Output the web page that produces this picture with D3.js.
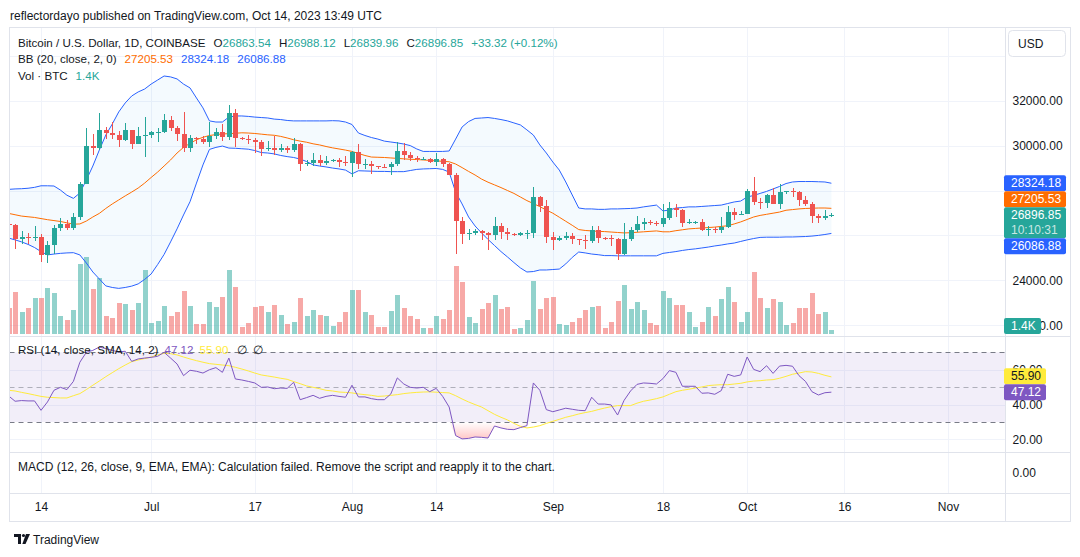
<!DOCTYPE html>
<html>
<head>
<meta charset="utf-8">
<script src="https://cdn.jsdelivr.net/npm/d3@7"></script>
<style>
  body { margin: 0; background: #ffffff; }
  svg { display: block; font-family: "Liberation Sans", Arial, sans-serif; }
  text { fill: #131722; }
</style>
</head>
<body>
<svg id="chart" width="1080" height="557"></svg>
<script>
// BTC/USD daily, Coinbase, 9 Jun 2023 -> 14 Oct 2023
const firstDay = Date.UTC(2023, 5, 9);
const lastDay = Date.UTC(2023, 9, 15);

const open = [26500,26480,25850,25940,25900,25920,25130,25580,26330,26510,26340,26840,28310,30000,29890,30690,30550,30470,30270,30690,30080,30440,
  30470,30590,30620,31160,30770,30510,29900,30350,30290,30170,30410,30620,30390,31460,30320,30300,30240,30140,29860,29910,29800,29910,29800,30090,29180,29230,29350,29220,29320,29360,29280,
  29230,29700,29170,29190,29090,29050,29040,29180,29770,29570,29430,29400,29420,29280,29410,29170,28700,26630,26050,26100,26190,26120,26040,26430,26160,26060,26010,26090,26110,27730,27300,
  25940,25800,25870,25970,25820,25790,25750,26240,25900,25890,25830,25160,25840,26230,26530,26610,26570,26530,26760,27210,27130,26570,26580,26590,26250,26300,26220,26370,27030,26910,
  26970,27990,27510,27430,27800,27410,27950,27970,27940,27590,27390,26870,26760,26863.54];
const high = [26780,26530,26200,26090,26430,26080,25760,26480,26780,26680,27000,28400,30800,30500,31430,30810,31050,30660,31000,30700,30830,31280,
  30650,30790,31390,31330,30880,31500,30450,30390,30440,31040,30800,30980,31820,31640,30390,30450,30340,30240,30200,30420,30050,30000,30350,30100,29380,29690,29560,29530,29420,29440,29520,
  29740,30060,29410,29320,29110,29170,29250,30180,30120,29710,29530,29480,29450,29680,29450,29230,28780,26820,26270,26290,26260,26140,26810,26560,26310,26100,26170,26230,28150,27760,27580,
  26130,25970,26130,26090,25860,26020,26440,26430,25940,26000,25900,26540,26380,26850,26780,26680,26620,27410,27490,27380,27160,26740,26640,26730,26430,26390,26840,27300,27240,27100,
  28060,28600,27680,27840,28130,28290,28000,28110,27990,27740,27480,26940,27110,26988.12];
const low = [26280,25400,25630,25620,25730,24820,24760,25180,26180,26260,26260,26670,28280,29600,29820,30280,30300,29930,30220,29860,30050,29500,
  30330,30170,30560,30640,30200,29700,29720,30060,30050,29950,30290,30220,30240,29940,30250,30080,29690,29520,29760,29570,29730,29650,29730,28860,29070,29100,29070,29120,29260,29040,29100,
  28590,28950,28960,28750,28950,28980,28700,29110,29360,29300,29250,29350,29240,29070,29060,28690,25170,25620,25790,26000,25810,25350,25800,25860,25780,25970,25970,25860,25880,27030,25660,
  25330,25730,25800,25620,25580,25380,25640,25650,25800,25550,24910,25140,25770,26130,26220,26480,26400,26390,26670,26800,26370,26510,26520,26210,25990,26090,26110,26340,26670,26900,
  26950,27340,27160,27220,27390,27190,27850,27690,27290,27320,26560,26550,26690,26839.96];
const close = [26480,25850,25940,25900,25920,25130,25580,26330,26510,26340,26840,28310,30000,29890,30690,30550,30470,30270,30690,30080,30440,30470,
  30590,30620,31160,30770,30510,29900,30350,30290,30170,30410,30620,30390,31460,30320,30300,30240,30140,29860,29910,29800,29910,29800,30090,29180,29230,29350,29220,29320,29360,29280,29230,
  29700,29170,29190,29090,29050,29040,29180,29770,29570,29430,29400,29420,29280,29410,29170,28700,26630,26050,26100,26190,26120,26040,26430,26160,26060,26010,26090,26110,27730,27300,25940,
  25800,25870,25970,25820,25790,25750,26240,25900,25890,25830,25160,25840,26230,26530,26610,26570,26530,26760,27210,27130,26570,26580,26590,26250,26300,26220,26370,27030,26910,26970,
  27990,27510,27430,27800,27410,27950,27970,27940,27590,27390,26870,26760,26860,26896.85];
// volume in thousands of BTC
const volume = [8.6,14.0,7.4,8.7,12.0,12.0,15.3,13.6,6.1,4.7,8.0,23.2,25.5,15.0,18.6,6.1,5.4,10.3,10.0,8.0,10.3,21.2,
  3.7,4.4,9.4,6.1,7.4,14.3,9.4,3.4,3.4,10.7,9.0,12.3,21.2,15.6,2.4,3.7,9.0,9.4,7.4,9.7,6.4,3.4,4.1,12.0,6.1,8.0,6.4,6.1,2.8,4.1,7.4,
  14.6,14.6,7.4,6.4,2.4,2.4,7.7,13.0,8.7,6.1,5.1,2.1,2.1,6.1,5.1,8.0,22.6,17.3,5.7,3.7,8.4,10.3,13.0,8.4,9.0,1.8,2.1,4.7,17.6,8.4,12.0,
  12.3,3.4,3.1,4.1,5.4,8.0,9.0,9.4,2.1,4.1,11.0,16.3,8.4,10.7,8.0,3.7,3.1,14.3,12.0,9.7,9.7,7.4,2.4,4.1,9.0,6.1,11.7,15.6,10.7,4.1,
  7.4,20.6,12.0,8.7,11.7,10.7,3.1,3.7,8.7,8.7,13.6,6.7,7.4,1.4];
const bbUpper = [28050,28070,28080,28100,28140,28210,28210,28200,28020,27790,27650,27890,28470,29090,29800,30470,30960,31500,31900,32210,32390,32520,
  32740,32920,33100,33060,32970,32740,32570,32120,31680,31100,31050,31050,31270,31320,31320,31300,31270,31250,31230,31180,31160,31120,31100,31100,31100,31100,31100,31100,31110,31100,31050,
  30940,30560,30450,30360,30290,30200,30160,30120,30070,30000,29850,29740,29740,29740,29740,29760,30290,30830,31070,31210,31230,31250,31210,31160,31100,31010,30920,30700,30470,30030,29670,
  29270,28910,28380,27800,27220,27180,27180,27160,27160,27180,27180,27190,27200,27220,27270,27310,27350,27090,27130,27220,27240,27270,27270,27290,27310,27330,27350,27420,27490,27530,
  27710,27780,27870,27960,28070,28180,28310,28380,28400,28400,28400,28390,28380,28324.18];
const bbBasis = [26980,26920,26860,26830,26800,26750,26700,26660,26620,26560,26500,26510,26640,26820,26980,27200,27400,27580,27760,27930,28110,28330,
  28580,28820,29090,29360,29670,29920,30100,30260,30370,30450,30490,30520,30530,30550,30570,30560,30540,30510,30480,30460,30410,30340,30260,30200,30150,30080,30030,29960,29900,29850,29800,
  29740,29650,29560,29490,29480,29470,29450,29430,29410,29390,29380,29360,29340,29320,29300,29280,29180,29020,28850,28690,28510,28370,28250,28130,28000,27870,27710,27550,27420,27280,27130,
  26990,26810,26630,26450,26260,26220,26200,26180,26170,26150,26130,26110,26120,26140,26160,26180,26200,26160,26160,26210,26250,26290,26310,26330,26350,26370,26400,26430,26510,26600,
  26710,26820,26890,26940,26990,27040,27120,27150,27180,27200,27210,27220,27220,27205.53];
const bbLower = [25880,25800,25710,25600,25460,25280,25130,25170,25200,25220,25230,25130,24770,24370,24060,23750,23680,23640,23680,23740,23840,24040,
  24280,24700,25150,25710,26290,26910,27500,28330,29140,29830,29920,29980,29890,29880,29860,29840,29780,29690,29670,29630,29560,29510,29470,29400,29290,29140,29090,29050,29000,28960,28910,
  28740,28880,28870,28860,28850,28850,28840,28840,28840,28890,28940,28960,28970,28980,28940,28820,27930,27400,26820,26420,26110,25820,25550,25280,25040,24790,24550,24370,24390,24460,24460,
  24480,24500,24730,25020,25260,25220,25170,25140,25100,25100,25090,25090,25090,25090,25090,25090,25090,25200,25240,25280,25330,25370,25400,25440,25480,25530,25570,25620,25660,25730,
  25800,25860,25910,25920,25920,25920,25930,25930,25940,25950,25970,26000,26040,26086.88];
const rsi = [45.0,41.9,42.3,42.1,42.1,36.7,41.5,48.2,49.9,48.6,53.3,64.3,70.0,71.1,73.0,72.1,71.1,70.2,70.6,64.8,66.2,66.7,
  67.1,67.7,70.0,66.7,63.3,56.6,59.7,59.1,58.1,60.0,61.2,58.5,66.7,54.7,54.1,53.3,52.4,49.9,50.1,49.1,49.5,49.3,52.8,42.8,44.0,45.3,43.6,44.7,45.3,44.7,44.2,
  51.1,44.4,44.4,43.4,42.8,42.8,46.1,55.3,51.8,49.9,49.5,49.9,47.4,49.3,44.7,38.6,22.2,20.3,20.6,21.4,21.2,20.8,27.7,26.6,25.8,25.6,26.8,27.9,52.4,48.2,37.1,
  35.9,36.9,37.9,37.3,36.7,36.5,44.2,40.3,40.3,39.8,34.0,42.4,47.8,51.6,52.4,52.2,51.8,54.9,59.5,58.5,50.5,50.5,50.5,46.5,46.7,45.9,48.0,57.4,56.2,57.0,
  67.3,60.2,58.9,62.3,57.9,62.1,62.5,62.0,56.6,53.3,47.4,45.5,46.8,47.12];
const rsiMa = [48.2,47.8,47.0,46.3,45.5,44.7,44.2,44.0,43.8,43.8,45.1,46.3,48.6,51.1,53.5,56.0,58.3,60.6,62.7,64.6,65.6,66.4,
  67.3,68.5,69.4,69.2,68.5,67.3,66.2,65.2,64.3,63.5,63.1,62.7,62.3,61.4,60.4,59.3,58.1,57.0,56.4,55.8,55.1,54.5,53.2,52.0,50.7,49.9,49.1,48.2,47.8,47.2,47.0,
  46.7,46.1,45.7,45.3,44.7,44.9,45.3,45.7,46.3,46.7,47.0,47.2,47.3,47.1,46.9,46.7,45.1,43.2,41.5,40.0,38.6,36.5,34.4,32.7,31.2,29.2,27.5,26.6,27.1,27.9,29.2,
  30.4,31.5,32.7,33.6,34.6,35.4,36.1,37.1,38.0,38.8,39.4,39.4,39.4,40.8,41.9,42.6,43.4,44.4,45.9,47.4,48.2,48.8,49.5,50.1,50.9,51.2,51.4,51.4,51.8,52.2,
  53.0,53.5,53.7,54.1,54.3,55.1,56.2,57.4,58.1,58.9,58.7,57.9,56.8,55.90];

const timeTicks = [[2023,5,14],[2023,6,1],[2023,6,17],[2023,7,1],[2023,7,14],[2023,8,1],[2023,8,18],[2023,9,1],[2023,9,16],[2023,10,1]];
const timeLabels = ['14','Jul','17','Aug','14','Sep','18','Oct','16','Nov'];
const priceTicks = [22000, 24000, 26000, 28000, 30000, 32000, 34000];
// 26000 / 28000 sit under the coloured value boxes, so only these are printed
const priceLabelTicks = [22000, 24000, 30000, 32000];
const rsiTicks = [20, 40, 60, 80];

const col = {
  up: '#26a69a', down: '#ef5350',
  upVol: 'rgba(38,166,154,0.5)', downVol: 'rgba(239,83,80,0.5)',
  grid: '#f0f3fa', border: '#e0e3eb', text: '#131722',
  bbBlue: '#2962ff', bbOrange: '#ff6d00', bbFill: 'rgba(33,150,243,0.05)',
  rsi: '#7e57c2', rsiMa: '#ffeb3b'
};

const frame = { left: 9.5, right: 1005.5, outer: 1070.5, top: 27.5, main: 336.5, rsi: 452.5, macd: 493.5, bottom: 521.5 };

const dates = d3.utcDay.range(new Date(firstDay), new Date(lastDay));
const bars = dates.map((d, i) => ({
  date: d, o: open[i], h: high[i], l: low[i], c: close[i], v: volume[i],
  up: bbUpper[i], mid: bbBasis[i], lo: bbLower[i], r: rsi[i], rm: rsiMa[i]
}));
const last = bars[bars.length - 1];

// scales
const x = d3.scaleUtc()
  .domain([new Date(Date.UTC(2023, 5, 14)), new Date(Date.UTC(2023, 10, 1))])
  .range([41, 948]);
const yPrice = d3.scaleLinear().domain([24000, 32000]).range([280.3, 100.7]);
const yVol = d3.scaleLinear().domain([0, 33]).range([334.3, 234.3]);
const yRsi = d3.scaleLinear().domain([30, 70]).range([422, 352.3]);
const yMacd = d3.scaleLinear().domain([-1, 1]).range([493, 453]);

const svg = d3.select('#chart');
const defs = svg.append('defs');
defs.append('clipPath').attr('id', 'clipMain')
  .append('rect').attr('x', frame.left + 0.5).attr('y', frame.top + 0.5)
  .attr('width', frame.right - frame.left - 1).attr('height', frame.main - frame.top - 1);
defs.append('clipPath').attr('id', 'clipRsi')
  .append('rect').attr('x', frame.left + 0.5).attr('y', frame.main + 0.5)
  .attr('width', frame.right - frame.left - 1).attr('height', frame.rsi - frame.main - 1);
const grad = defs.append('linearGradient').attr('id', 'oversold')
  .attr('gradientUnits', 'userSpaceOnUse')
  .attr('x1', 0).attr('x2', 0).attr('y1', yRsi(30)).attr('y2', yRsi(18));
grad.append('stop').attr('offset', 0).attr('stop-color', 'rgba(255,82,82,0)');
grad.append('stop').attr('offset', 1).attr('stop-color', 'rgba(255,82,82,0.4)');

// published line
svg.append('text').attr('x', 10).attr('y', 20).style('font-size', '12px')
  .text('reflectordayo published on TradingView.com, Oct 14, 2023 13:49 UTC');

// grid lines
const tickDates = timeTicks.map(t => new Date(Date.UTC(t[0], t[1], t[2])));
const grid = svg.append('g').attr('stroke', col.grid).attr('shape-rendering', 'crispEdges');
grid.selectAll('line.v').data(tickDates).enter().append('line')
  .attr('x1', d => Math.round(x(d)) + 0.5).attr('x2', d => Math.round(x(d)) + 0.5)
  .attr('y1', frame.top).attr('y2', frame.macd);
grid.selectAll('line.p').data(priceTicks).enter().append('line')
  .attr('x1', frame.left).attr('x2', frame.right)
  .attr('y1', d => Math.round(yPrice(d)) + 0.5).attr('y2', d => Math.round(yPrice(d)) + 0.5);
grid.selectAll('line.r').data(rsiTicks).enter().append('line')
  .attr('clip-path', 'url(#clipRsi)')
  .attr('x1', frame.left).attr('x2', frame.right)
  .attr('y1', d => Math.round(yRsi(d)) + 0.5).attr('y2', d => Math.round(yRsi(d)) + 0.5);

// ---- main pane
const main = svg.append('g').attr('clip-path', 'url(#clipMain)');

// volume
main.append('g').attr('shape-rendering', 'crispEdges')
  .selectAll('rect').data(bars).enter().append('rect')
  .attr('x', d => Math.round(x(d.date)) - 2)
  .attr('width', 5)
  .attr('y', d => yVol(d.v))
  .attr('height', d => yVol(0) - yVol(d.v))
  .attr('fill', d => d.c >= d.o ? col.upVol : col.downVol);

// bollinger bands
main.append('path').datum(bars)
  .attr('fill', col.bbFill)
  .attr('d', d3.area().x(d => x(d.date)).y0(d => yPrice(d.lo)).y1(d => yPrice(d.up)));
[['up', col.bbBlue], ['lo', col.bbBlue], ['mid', col.bbOrange]].forEach(([k, c]) => {
  main.append('path').datum(bars)
    .attr('fill', 'none').attr('stroke', c).attr('stroke-width', 1)
    .attr('d', d3.line().x(d => x(d.date)).y(d => yPrice(d[k])));
});

// candles
const candle = main.append('g').attr('shape-rendering', 'crispEdges')
  .selectAll('g').data(bars).enter().append('g');
candle.append('line')
  .attr('x1', d => Math.round(x(d.date)) + 0.5).attr('x2', d => Math.round(x(d.date)) + 0.5)
  .attr('y1', d => yPrice(d.h)).attr('y2', d => yPrice(d.l))
  .attr('stroke', d => d.c >= d.o ? col.up : col.down);
candle.append('rect')
  .attr('x', d => Math.round(x(d.date)) - 2)
  .attr('width', 5)
  .attr('y', d => yPrice(Math.max(d.o, d.c)))
  .attr('height', d => Math.max(1, Math.abs(yPrice(d.o) - yPrice(d.c))))
  .attr('fill', d => d.c >= d.o ? col.up : col.down);

// ---- RSI pane
const rp = svg.append('g').attr('clip-path', 'url(#clipRsi)');
rp.append('rect')
  .attr('x', frame.left).attr('width', frame.right - frame.left)
  .attr('y', yRsi(70)).attr('height', yRsi(30) - yRsi(70))
  .attr('fill', 'rgba(126,87,194,0.1)');
rp.append('path').datum(bars)
  .attr('fill', 'url(#oversold)')
  .attr('d', d3.area().x(d => x(d.date)).y0(yRsi(30)).y1(d => yRsi(Math.min(d.r, 30))));
[[70, '#787b86'], [50, 'rgba(120,123,134,0.55)'], [30, '#787b86']].forEach(([v, c]) => {
  rp.append('line')
    .attr('x1', frame.left).attr('x2', frame.right)
    .attr('y1', Math.round(yRsi(v)) + 0.5).attr('y2', Math.round(yRsi(v)) + 0.5)
    .attr('stroke', c).attr('stroke-dasharray', '5,4');
});
rp.append('path').datum(bars)
  .attr('fill', 'none').attr('stroke', col.rsiMa).attr('stroke-width', 1)
  .attr('d', d3.line().x(d => x(d.date)).y(d => yRsi(d.rm)));
rp.append('path').datum(bars)
  .attr('fill', 'none').attr('stroke', col.rsi).attr('stroke-width', 1)
  .attr('d', d3.line().x(d => x(d.date)).y(d => yRsi(d.r)));

// ---- frame and separators
const fr = svg.append('g').attr('stroke', col.border).attr('fill', 'none').attr('shape-rendering', 'crispEdges');
fr.append('rect').attr('x', frame.left).attr('y', frame.top)
  .attr('width', frame.outer - frame.left).attr('height', frame.bottom - frame.top);
fr.append('line').attr('x1', frame.right).attr('x2', frame.right).attr('y1', frame.top).attr('y2', frame.bottom);
[frame.main, frame.rsi, frame.macd].forEach(y => {
  fr.append('line').attr('x1', frame.left).attr('x2', frame.outer).attr('y1', y).attr('y2', y);
});

// ---- axes
const fontSize = '12px';
const legendSize = '11.6px';
const timeAxis = d3.axisBottom(x).tickValues(tickDates)
  .tickFormat((d, i) => timeLabels[i]).tickSize(0).tickPadding(9);
const gT = svg.append('g').attr('transform', `translate(0,${frame.macd})`).call(timeAxis);

const priceAxis = d3.axisRight(yPrice).tickValues(priceLabelTicks)
  .tickFormat(d3.format('.2f')).tickSize(0).tickPadding(7);
const gP = svg.append('g').attr('transform', `translate(${frame.right},0)`).call(priceAxis);

const rsiAxis = d3.axisRight(yRsi).tickValues([20, 40, 60])
  .tickFormat(d3.format('.2f')).tickSize(0).tickPadding(7);
const gR = svg.append('g').attr('transform', `translate(${frame.right},0)`).call(rsiAxis);

const macdAxis = d3.axisRight(yMacd).tickValues([0])
  .tickFormat(d3.format('.2f')).tickSize(0).tickPadding(7);
const gM = svg.append('g').attr('transform', `translate(${frame.right},0)`).call(macdAxis);

[gT, gP, gR, gM].forEach(g => {
  g.select('.domain').remove();
  g.selectAll('text').attr('fill', col.text).style('font-size', fontSize)
    .style('font-family', '"Liberation Sans", Arial, sans-serif');
});

// USD button
svg.append('rect').attr('x', 1008.5).attr('y', 30.5).attr('width', 57).attr('height', 26)
  .attr('rx', 4).attr('fill', '#fff').attr('stroke', col.border);
svg.append('text').attr('x', 1018).attr('y', 48).style('font-size', fontSize).text('USD');

// price labels on the axis, pushed apart around the last close
function axisBox(top, h, w, fill, lines) {
  svg.append('rect').attr('x', 1004).attr('y', top).attr('width', w).attr('height', h)
    .attr('rx', 2).attr('fill', fill);
  lines.forEach((l, i) => {
    svg.append('text').attr('x', 1011).attr('y', top + 12 + i * 15)
      .style('font-size', fontSize).style('fill', l.color || '#fff').text(l.t);
  });
}
const fmt = d3.format('.2f');
const closeTop = yPrice(last.c) - 8;
const closeBottom = closeTop + 31;
const midBottom = Math.min(yPrice(last.mid) + 8, closeTop);
const upBottom = Math.min(yPrice(last.up) + 8, midBottom - 0.5);
const loTop = Math.max(yPrice(last.lo) - 8, closeBottom);
axisBox(upBottom - 16, 16, 62, col.bbBlue, [{ t: fmt(last.up) }]);
axisBox(midBottom - 16, 16, 62, col.bbOrange, [{ t: fmt(last.mid) }]);
axisBox(closeTop, 31, 62, col.up, [{ t: fmt(last.c) }, { t: '10:10:31', color: 'rgba(255,255,255,0.75)' }]);
axisBox(loTop, 16, 62, col.bbBlue, [{ t: fmt(last.lo) }]);
axisBox(Math.min(yVol(last.v) - 8, 334 - 16), 16, 37, col.up, [{ t: '1.4K' }]);

const rsiTop = yRsi(last.r) - 8;
const maBottom = Math.min(yRsi(last.rm) + 8, rsiTop);
axisBox(maBottom - 16, 16, 42, col.rsiMa, [{ t: fmt(last.rm), color: '#131722' }]);
axisBox(rsiTop, 16, 42, col.rsi, [{ t: fmt(last.r) }]);

// ---- legends
function legend(y, parts, size) {
  const t = svg.append('text').attr('x', 18).attr('y', y).style('font-size', size || legendSize);
  parts.forEach(p => {
    t.append('tspan').attr('dx', p.dx || 0).style('fill', p.c || col.text).text(p.t);
  });
}
const green = col.up;
legend(47, [
  { t: 'Bitcoin / U.S. Dollar, 1D, COINBASE' },
  { t: 'O', dx: 8 }, { t: fmt(last.o), c: green },
  { t: 'H', dx: 8 }, { t: fmt(last.h), c: green },
  { t: 'L', dx: 8 }, { t: fmt(last.l), c: green },
  { t: 'C', dx: 8 }, { t: fmt(last.c), c: green },
  { t: '+33.32 (+0.12%)', dx: 8, c: green }
]);
legend(63, [
  { t: 'BB (20, close, 2, 0)' },
  { t: fmt(last.mid), dx: 8, c: col.bbOrange },
  { t: fmt(last.up), dx: 8, c: col.bbBlue },
  { t: fmt(last.lo), dx: 8, c: col.bbBlue }
]);
legend(80, [
  { t: 'Vol · BTC' },
  { t: '1.4K', dx: 8, c: green }
]);
legend(354, [
  { t: 'RSI (14, close, SMA, 14, 2)' },
  { t: fmt(last.r), dx: 6, c: col.rsi },
  { t: fmt(last.rm), dx: 6, c: col.rsiMa },
  { t: '∅', dx: 8 },
  { t: '∅', dx: 6 }
]);
legend(471, [
  { t: 'MACD (12, 26, close, 9, EMA, EMA): Calculation failed. Remove the script and reapply it to the chart.' }
], '12px');

// ---- TradingView footer
const logo = svg.append('g').attr('fill', '#131722');
logo.append('path').attr('d', 'M14 534h7v10h-3v-7h-4z');
logo.append('circle').attr('cx', 23.5).attr('cy', 535.5).attr('r', 1.6);
logo.append('path').attr('d', 'M26 534h4l-4.5 10h-3.2z');
svg.append('text').attr('x', 33).attr('y', 544).style('font-size', fontSize).text('TradingView');
</script>
</body>
</html>
